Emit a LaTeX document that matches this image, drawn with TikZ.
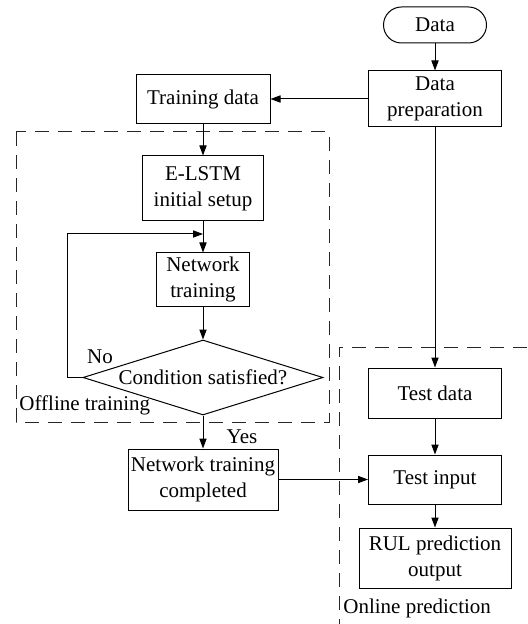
\documentclass[tikz,border=0pt]{standalone}
\usepackage{fontspec}
\setmainfont{Liberation Serif}
\usetikzlibrary{arrows.meta,shapes.geometric,calc}
\tikzset{
  box/.style={draw,line width=0.5pt,inner sep=0pt,align=center},
  term/.style={box,rounded corners=9pt,minimum width=51.5pt,minimum height=18pt},
  decision/.style={draw,line width=0.5pt,diamond,aspect=3.2,inner sep=0pt,
    minimum width=120pt,minimum height=37.5pt},
  arr/.style={line width=0.5pt,-{Triangle[length=5pt,width=3.6pt]}},
  zone/.style={line width=0.5pt,black!85,dash pattern=on 7pt off 4.5pt},
  tag/.style={inner sep=0pt},
}

\begin{document}
\begin{tikzpicture}[x=0.5pt,y=-0.5pt,font=\fontsize{10.5}{13}\selectfont]
    \useasboundingbox (0,0) rectangle (527,624);
    % dashed zones
    \draw[zone] (16,132) rectangle (329,422);
    \draw[zone] (527,347) -- (339,347) -- (339,624);
    \node[tag,anchor=west] (offline) at (19,405) {Offline training};
    \node[tag,anchor=west] (online) at (343,608) {Online prediction};

    % left column
    \node[term] (data) at (435,25) {Data};
    \node[box,minimum width=66.5pt,minimum height=28pt] (prep) at (435,99) {Data\\preparation};
    \node[box,minimum width=67pt,minimum height=24.5pt] (tdata) at (203,99) {Training data};
    \node[box,minimum width=60.5pt,minimum height=32.5pt] (setup) at (203,188.5) {E-LSTM\\initial setup};
    \node[box,minimum width=46.5pt,minimum height=26.5pt] (train) at (203,279.5) {Network\\training};
    \node[decision] (cond) at (203,377.5) {Condition satisfied?};
    \node[box,minimum width=75pt,minimum height=30.5pt] (done) at (203,479.5) {Network training\\completed};
    \coordinate (join) at (203,234);
    \node[tag] (no) at (100,357) {No};
    \node[tag] (yes) at (242,437) {Yes};

    % right column
    \node[box,minimum width=66.5pt,minimum height=25pt] (test) at (435,393) {Test data};
    \node[box,minimum width=66.5pt,minimum height=24.5pt] (tin) at (435,479.5) {Test input};
    \node[box,minimum width=76pt,minimum height=30pt] (rul) at (435,558) {RUL prediction\\output};

    \draw[arr] (data) -- (prep);
    \draw[arr] (prep) -- (tdata);
    \draw[arr] (tdata) -- (setup);
    \draw[arr] (setup) -- (train);
    \draw[arr] (train) -- (cond);
    \draw[arr] (cond.west) -- ++(-15,0) |- (join);
    \draw[arr] (cond) -- (done);
    \draw[arr] (done) -- (tin);
    \draw[arr] (prep) -- (test);
    \draw[arr] (test) -- (tin);
    \draw[arr] (tin) -- (rul);
\end{tikzpicture}
\end{document}
